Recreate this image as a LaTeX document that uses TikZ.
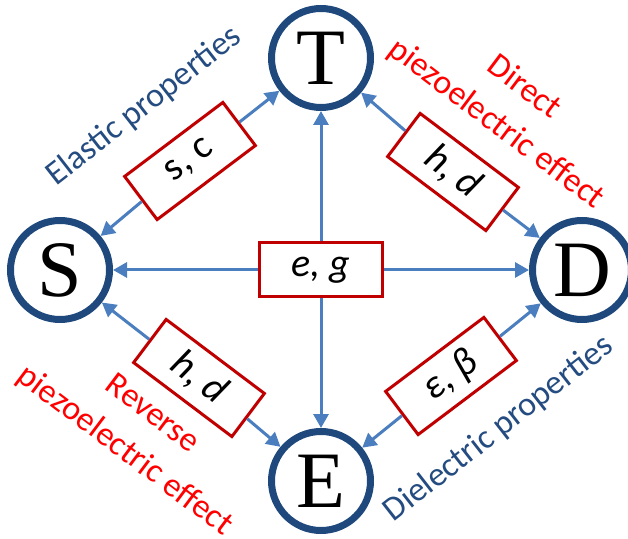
\documentclass[tikz,border=0pt]{standalone}
\usepackage{fontspec}
\setmainfont{Liberation Serif}
\newfontfamily\calfont{Carlito}
\usetikzlibrary{arrows.meta}
\definecolor{circblue}{RGB}{31,73,125}
\definecolor{arrblue}{RGB}{74,126,190}
\definecolor{boxred}{RGB}{192,0,0}
\definecolor{txtred}{RGB}{255,0,0}
\definecolor{txtblue}{RGB}{36,76,128}
\tikzset{
  quant/.style={circle, draw=circblue, line width=7pt, fill=white, minimum size=99pt, inner sep=0pt,
    font=\fontsize{80}{80}\selectfont},
  coefbox/.style={draw=boxred, line width=3pt, fill=white, minimum width=123pt, minimum height=54pt,
    inner sep=0pt, font=\calfont\fontsize{40}{40}\selectfont},
  arr/.style={draw=arrblue, line width=3pt, -{Triangle[length=14pt,width=15pt]}},
  sidelab/.style={align=center, inner sep=0pt, font=\calfont\fontsize{34}{46}\selectfont}
}
\begin{document}
\begin{tikzpicture}[x=1pt,y=1pt]
\useasboundingbox (0,0) rectangle (628,538);
% circles
\node[quant] (T) at (321,480) {T};
\node[quant] (S) at (60,268) {S};
\node[quant] (D) at (582,268) {D};
\node[quant] (E) at (321,57) {E};
% boxes
\node[coefbox] (eg) at (321,268) {\itshape e, g};
\node[coefbox, rotate=37] (sc) at (190,377) {s, c};
\node[coefbox, rotate=-37] (hd1) at (453,366) {\itshape h, d};
\node[coefbox, rotate=-37] (hd2) at (199,160) {\itshape h, d};
\node[coefbox, rotate=37] (eb) at (451,162) {\itshape ε, β};
% connectors
\draw[arr] (eg) -- (T);
\draw[arr] (eg) -- (E);
\draw[arr] (eg) -- (S);
\draw[arr] (eg) -- (D);
\draw[arr] (sc) -- (T);
\draw[arr] (sc) -- (S);
\draw[arr] (hd1) -- (T);
\draw[arr] (hd1) -- (D);
\draw[arr] (hd2) -- (S);
\draw[arr] (hd2) -- (E);
\draw[arr] (eb) -- (D);
\draw[arr] (eb) -- (E);
% side labels
\node[sidelab, text=txtblue, rotate=38] (el) at (144,432) {Elastic properties};
\node[sidelab, text=txtred, rotate=-37] (dp) at (510,432) {Direct\\piezoelectric effect};
\node[sidelab, text=txtred, rotate=-37] (rp) at (138,105) {Reverse\\piezoelectric effect};
\node[sidelab, text=txtblue, rotate=38] (dl) at (499,109) {Dielectric properties};
\end{tikzpicture}
\end{document}
